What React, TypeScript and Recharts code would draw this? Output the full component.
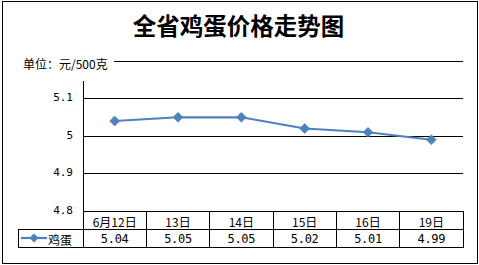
import React from 'react';
import { LineChart, Line, XAxis, YAxis, CartesianGrid } from 'recharts';

const title = '全省鸡蛋价格走势图';
const unitLabel = '单位：元/500克';
const seriesName = '鸡蛋';
const categories = ['6月12日', '13日', '14日', '15日', '16日', '19日'];
const eggPrices = [5.04, 5.05, 5.05, 5.02, 5.01, 4.99];
const yTicks = [4.8, 4.9, 5, 5.1, 5.2];
const yDomain: [number, number] = [4.8, 5.2];
const axisTopValue = 5.146;

const data = categories.map((c, i) => ({ category: c, value: eggPrices[i] }));

const W = 479;
const H = 265;
const PLOT_LEFT = 83;
const PLOT_RIGHT = 463;
const PLOT_TOP = 61;
const PLOT_BOTTOM = 211;
const ROW_H = 18;
const COL_W = (PLOT_RIGHT - PLOT_LEFT) / categories.length;
const AXIS_TOP_PX =
  PLOT_TOP + ((yDomain[1] - axisTopValue) / (yDomain[1] - yDomain[0])) * (PLOT_BOTTOM - PLOT_TOP);
const BLUE = '#4F81BD';
const CJK = '"Noto Sans CJK SC", sans-serif';
const MONO = '"DejaVu Sans Mono", monospace';

const diamond = (cx: number, cy: number, r: number) =>
  `M${cx} ${cy - r} L${cx + r} ${cy} L${cx} ${cy + r} L${cx - r} ${cy} Z`;

const Dot = (props: any) => {
  const { cx, cy, index } = props;
  if (cx == null || cy == null) return <g key={`d${index}`} />;
  return <path key={`d${index}`} d={diamond(cx, cy, 5)} fill={BLUE} stroke={BLUE} strokeWidth={0.5} />;
};

const XTick = (props: any) => {
  const { x, y, payload, index } = props;
  const left = x - COL_W / 2;
  return (
    <g>
      <rect x={left} y={y} width={COL_W} height={ROW_H} fill="none" stroke="#000" strokeWidth={1} shapeRendering="crispEdges" />
      <rect x={left} y={y + ROW_H} width={COL_W} height={ROW_H} fill="none" stroke="#000" strokeWidth={1} shapeRendering="crispEdges" />
      <text x={x} y={y + ROW_H / 2 + 1} textAnchor="middle" dominantBaseline="central" fontFamily={CJK} fontSize={12} fill="#000">
        {payload.value}
      </text>
      <text x={x} y={y + ROW_H * 1.5 + 1} textAnchor="middle" dominantBaseline="central" fontFamily={MONO} fontSize={12} letterSpacing={-0.3} fill="#000">
        {eggPrices[index].toFixed(2)}
      </text>
      {index === 0 && (
        <g>
          <line x1={left} x2={left} y1={y} y2={AXIS_TOP_PX} stroke="#000" strokeWidth={1} shapeRendering="crispEdges" />
          <rect x={18} y={y + ROW_H} width={left - 18} height={ROW_H} fill="none" stroke="#000" strokeWidth={1} shapeRendering="crispEdges" />
          <line x1={21} x2={47} y1={y + ROW_H * 1.5} y2={y + ROW_H * 1.5} stroke={BLUE} strokeWidth={2.25} />
          <path d={diamond(34, y + ROW_H * 1.5, 4.5)} fill={BLUE} />
          <text x={48} y={y + ROW_H * 1.5 + 1} dominantBaseline="central" fontFamily={CJK} fontSize={12} fill="#000">
            {seriesName}
          </text>
        </g>
      )}
    </g>
  );
};

const YTick = (props: any) => {
  const { x, y, payload } = props;
  if (payload.value === yDomain[1]) {
    return (
      <g>
        <rect x={12} y={y - 8} width={102} height={16} fill="#fff" />
        <text x={23} y={y + 2} dominantBaseline="central" fontFamily={CJK} fontSize={12} fill="#000">
          {unitLabel}
        </text>
      </g>
    );
  }
  return (
    <text x={x} y={y - 1} textAnchor="end" dominantBaseline="central" fontFamily={MONO} fontSize={11} fill="#000">
      {String(payload.value)}
    </text>
  );
};

export default function App() {
  return (
    <div style={{ position: 'absolute', left: 0, top: 0, width: W, height: H, background: '#fff' }}>
      <div
        style={{
          position: 'absolute',
          left: 2,
          top: 1,
          width: 476,
          height: 263,
          border: '1px solid #000',
          boxSizing: 'border-box',
        }}
      />
      <div
        style={{
          position: 'absolute',
          left: 0,
          top: 11,
          width: W - 2,
          textAlign: 'center',
          fontFamily: CJK,
          fontWeight: 'bold',
          fontSize: 23.5,
          lineHeight: '28px',
          color: '#000',
        }}
      >
        {title}
      </div>
      <div style={{ position: 'absolute', left: 0, top: 0 }}>
        <LineChart
          width={W}
          height={H}
          data={data}
          margin={{ top: PLOT_TOP, right: W - PLOT_RIGHT, bottom: 0, left: 0 }}
        >
          <CartesianGrid vertical={false} stroke="#000" strokeWidth={1} horizontalValues={yTicks} shapeRendering="crispEdges" />
          <XAxis
            dataKey="category"
            height={H - PLOT_BOTTOM}
            axisLine={{ stroke: '#000', shapeRendering: 'crispEdges' }}
            tickLine={false}
            tickSize={0}
            tickMargin={0}
            interval={0}
            padding={{ left: COL_W / 2, right: COL_W / 2 }}
            tick={<XTick />}
          />
          <YAxis
            width={PLOT_LEFT}
            domain={yDomain}
            ticks={yTicks}
            axisLine={false}
            tickLine={false}
            tickSize={0}
            tickMargin={10}
            interval={0}
            tick={<YTick />}
          />
          <Line
            type="linear"
            dataKey="value"
            stroke={BLUE}
            strokeWidth={2.25}
            dot={<Dot />}
            activeDot={false}
            isAnimationActive={false}
          />
        </LineChart>
      </div>
    </div>
  );
}
